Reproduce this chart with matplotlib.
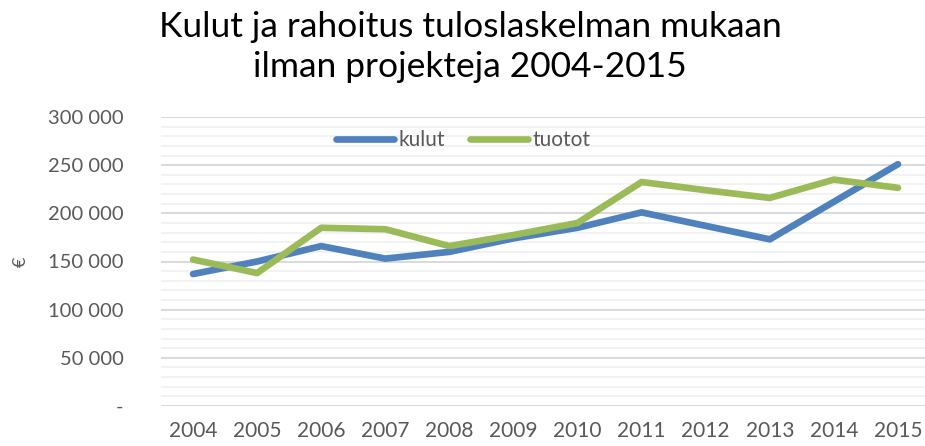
import matplotlib
matplotlib.use("Agg")
import matplotlib.pyplot as plt
from matplotlib.ticker import MultipleLocator, FuncFormatter

years = ["2004", "2005", "2006", "2007", "2008", "2009", "2010", "2011", "2012", "2013", "2014", "2015"]
kulut = [137000, 150000, 166000, 153000, 160000, 174000, 185000, 201000, 187000, 173000, 212000, 251000]
tuotot = [152000, 138000, 185000, 183500, 166000, 177500, 190000, 232500, 224000, 216000, 235000, 226500]

plt.rcParams['font.family'] = ['Lato', 'DejaVu Sans']
txt = '#595959'

fig = plt.figure(figsize=(9.25, 4.46), dpi=100)
ax = fig.add_axes([161/925, 1-406/446, 769/925, 289/446])

x = list(range(len(years)))
ax.plot(x, kulut, color='#4F81BD', lw=4.8, solid_capstyle='round', solid_joinstyle='round', label='kulut', zorder=3)
ax.plot(x, tuotot, color='#9BBB59', lw=4.8, solid_capstyle='round', solid_joinstyle='round', label='tuotot', zorder=3)

ax.set_xlim(-0.5, len(years) - 0.5)
ax.set_ylim(0, 300000)
ax.set_xticks(x)
ax.set_xticklabels(years)
ax.yaxis.set_major_locator(MultipleLocator(50000))
ax.yaxis.set_minor_locator(MultipleLocator(10000))
ax.yaxis.set_major_formatter(FuncFormatter(lambda v, p: '-' if v == 0 else f"{int(v):,}".replace(',', ' ')))
ax.grid(which='major', axis='y', color='#D9D9D9', lw=1.4, zorder=1)
ax.grid(which='minor', axis='y', color='#F2F2F2', lw=1.4, zorder=0)
ax.set_axisbelow(True)
for s in ax.spines.values():
    s.set_visible(False)
ax.tick_params(axis='both', which='both', length=0, colors=txt)
ax.tick_params(axis='y', pad=27, labelsize=14.5)
ax.tick_params(axis='x', pad=11, labelsize=15)
ax.set_ylabel('€', color=txt, fontsize=13, labelpad=14)

leg = ax.legend(loc='upper center', bbox_to_anchor=(0.393, 1.02), ncol=2, frameon=False,
                fontsize=15, handlelength=2.8, handletextpad=0.2, columnspacing=1.2, labelcolor=txt)

fig.text(0.508, 0.975, "Kulut ja rahoitus tuloslaskelman mukaan\nilman projekteja 2004-2015",
         ha='center', va='top', fontsize=25.5, color='black', linespacing=1.3)

fig.savefig('out.png', dpi=100)
